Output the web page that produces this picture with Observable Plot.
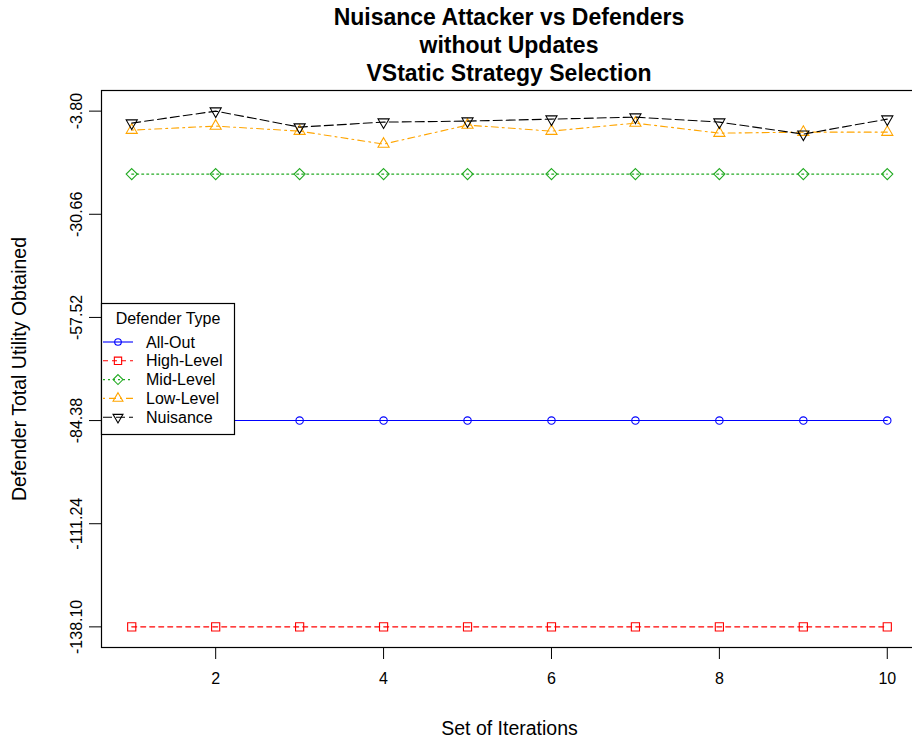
<!DOCTYPE html>
<html>
<head>
<meta charset="utf-8">
<script src="https://cdn.jsdelivr.net/npm/d3@7"></script>
<script src="https://cdn.jsdelivr.net/npm/@observablehq/plot@0.6"></script>
<style>
  html, body { margin: 0; padding: 0; background: #fff; overflow: hidden; }
  #title {
    box-sizing: border-box;
    width: 912px; height: 88px;
    padding: 3px 0 0 106px;
    font-family: "Liberation Sans", Arial, sans-serif;
    font-weight: bold; font-size: 23px; line-height: 28px;
    text-align: center; color: #000;
  }
  #chart svg { display: block; }
</style>
</head>
<body>
<div id="title">Nuisance Attacker vs Defenders<br>without Updates<br>VStatic Strategy Selection</div>
<div id="chart"></div>
<script>
// Iteration index on the x axis
const iterations = [1, 2, 3, 4, 5, 6, 7, 8, 9, 10];

// Defender total utility per iteration, one array per defender type
const allOut    = [-84.38, -84.38, -84.38, -84.38, -84.38, -84.38, -84.38, -84.38, -84.38, -84.38];
const highLevel = [-138.10, -138.10, -138.10, -138.10, -138.10, -138.10, -138.10, -138.10, -138.10, -138.10];
const midLevel  = [-20.20, -20.20, -20.20, -20.20, -20.20, -20.20, -20.20, -20.20, -20.20, -20.20];
const lowLevel  = [-8.75, -7.70, -9.01, -12.39, -7.44, -9.01, -6.92, -9.53, -9.27, -9.27];
const nuisance  = [-6.92, -3.80, -7.96, -6.66, -6.40, -5.88, -5.36, -6.66, -9.79, -5.88];

// Axis ticks and labels
const xTicks = [2, 4, 6, 8, 10];
const yTicks = [-138.10, -111.24, -84.38, -57.52, -30.66, -3.80];
const yTickLabels = ["-138.10", "-111.24", "-84.38", "-57.52", "-30.66", "-3.80"];

const seriesNames = ["All-Out", "High-Level", "Mid-Level", "Low-Level", "Nuisance"];
const seriesValues = [allOut, highLevel, midLevel, lowLevel, nuisance];
const legendTitle = "Defender Type";
const xTitle = "Set of Iterations";
const yTitle = "Defender Total Utility Obtained";

// Open downward-pointing triangle
const triangleDown = {
  draw(context, size) {
    const k = Math.sqrt(size) * 0.6824, t = k / 2, u = k * Math.sqrt(3) / 2;
    context.moveTo(0, k);
    context.lineTo(-u, -t);
    context.lineTo(u, -t);
    context.closePath();
  }
};
// Open upward-pointing triangle
const triangleUp = {
  draw(context, size) {
    const k = Math.sqrt(size) * 0.6824, t = k / 2, u = k * Math.sqrt(3) / 2;
    context.moveTo(0, -k);
    context.lineTo(u, t);
    context.lineTo(-u, t);
    context.closePath();
  }
};

const styles = [
  {color: "#0000ff", dash: null,      symbol: "circle",  r: 3.7},
  {color: "#ff0000", dash: "5,4",     symbol: "square",  r: 4.6},
  {color: "#22aa22", dash: "2,3",     symbol: "diamond2", r: 5.0},
  {color: "#ffa500", dash: "2,4,7,4", symbol: triangleUp, r: 5.3},
  {color: "#000000", dash: "9,4",     symbol: triangleDown, r: 5.3}
];

// Padded extents of the data, as in a base-graphics plot
const yMin = d3.min(seriesValues.flat()), yMax = d3.max(seriesValues.flat());
const yPad = (yMax - yMin) * 0.04;
const xPad = (d3.max(iterations) - d3.min(iterations)) * 0.04;

const marks = [
  Plot.frame({stroke: "#000", strokeWidth: 1.2}),
  Plot.axisX(xTicks, {tickSize: 12, tickPadding: 13, fontSize: 16, tickFormat: d => String(d), label: null, stroke: "#000"}),
  Plot.axisY(yTicks, {tickSize: 12, tickFormat: () => "", label: null, stroke: "#000"}),
  Plot.text(yTicks, {y: d => d, text: (d, i) => yTickLabels[i], frameAnchor: "left", textAnchor: "middle", dx: -25, rotate: -90, fontSize: 16}),
  Plot.text([xTitle], {text: d => d, frameAnchor: "bottom", textAnchor: "middle", dy: 87, fontSize: 19.5}),
  Plot.text([yTitle], {text: d => d, frameAnchor: "left", textAnchor: "middle", dx: -82, rotate: -90, fontSize: 19.5})
];

seriesValues.forEach((vals, s) => {
  const rows = iterations.map((x, i) => ({x, y: vals[i]}));
  const st = styles[s];
  marks.push(Plot.line(rows, {x: "x", y: "y", stroke: st.color, strokeWidth: 1.1, strokeDasharray: st.dash}));
  marks.push(Plot.dot(rows, {x: "x", y: "y", stroke: st.color, fill: "none", strokeWidth: 1.1, symbol: st.symbol, r: st.r}));
});

const chart = Plot.plot({
  width: 912,
  height: 652,
  marginTop: 2,
  marginBottom: 93,
  marginLeft: 101,
  marginRight: -5,
  style: {fontFamily: "'Liberation Sans', Arial, sans-serif", fontSize: "16px", background: "#fff", overflow: "hidden", color: "#000"},
  x: {domain: [d3.min(iterations) - xPad, d3.max(iterations) + xPad]},
  y: {domain: [yMin - yPad, yMax + yPad]},
  marks
});

// Legend box at the left edge of the panel
const svg = d3.select(chart);
const lg = svg.append("g")
  .attr("font-family", "'Liberation Sans', Arial, sans-serif")
  .attr("font-size", 16)
  .attr("text-anchor", "start");
lg.append("rect").attr("x", 101.5).attr("y", 215.5).attr("width", 133).attr("height", 131)
  .attr("fill", "#fff").attr("stroke", "#000").attr("stroke-width", 1.2);
lg.append("text").attr("x", 168).attr("y", 230).attr("dy", "0.35em").attr("text-anchor", "middle").attr("fill", "#000").text(legendTitle);
seriesNames.forEach((name, s) => {
  const st = styles[s];
  const y = 254 + s * 18.8;
  lg.append("line").attr("x1", 103).attr("x2", 133).attr("y1", y).attr("y2", y)
    .attr("stroke", st.color).attr("stroke-width", 1.1).attr("stroke-dasharray", st.dash);
  const sym = typeof st.symbol === "string"
    ? {circle: d3.symbolCircle, square: d3.symbolSquare, diamond2: d3.symbolDiamond2}[st.symbol]
    : st.symbol;
  lg.append("path").attr("transform", `translate(118,${y})`)
    .attr("d", d3.symbol(sym, Math.PI * st.r * st.r * 0.8)())
    .attr("fill", "none").attr("stroke", st.color).attr("stroke-width", 1.1);
  lg.append("text").attr("x", 146).attr("y", y).attr("dy", "0.35em").attr("fill", "#000").text(name);
});

document.getElementById("chart").appendChild(chart);
</script>
</body>
</html>
